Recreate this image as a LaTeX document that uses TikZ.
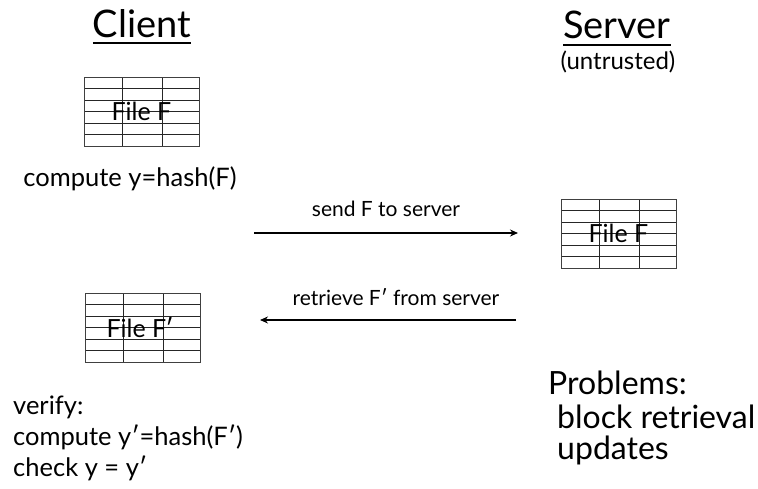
\documentclass[tikz,border=0pt]{standalone}
\usepackage{fontspec}
\setmainfont{Lato}
\usetikzlibrary{arrows.meta}
\begin{document}
\begin{tikzpicture}[x=1pt,y=-1pt,
  every node/.style={inner sep=0pt},
  title/.style={font=\fontsize{38}{42}\selectfont, anchor=base},
  uline/.style={line width=1.4pt},
  smalltxt/.style={font=\fontsize{24}{27}\selectfont, anchor=base},
  body/.style={font=\fontsize{25.5}{30}\selectfont},
  lbl/.style={font=\fontsize{21}{24}\selectfont, anchor=base},
  prob/.style={font=\fontsize{32}{36}\selectfont, anchor=base west},
  arr/.style={line width=1.4pt, -{Stealth[length=8pt,width=7pt]}},
  gridline/.style={line width=0.8pt, draw=black!85},
  filebox/.style={draw=black!75, line width=0.9pt, minimum width=115pt, minimum height=69pt,
    font=\fontsize{25}{28}\selectfont,
    path picture={
      \foreach \i in {1,...,5}
        \draw[gridline] ([yshift=-\i*11.5pt]path picture bounding box.north west) -- ([yshift=-\i*11.5pt]path picture bounding box.north east);
      \draw[gridline] ([xshift=38pt]path picture bounding box.north west) -- ([xshift=38pt]path picture bounding box.south west);
      \draw[gridline] ([xshift=78pt]path picture bounding box.north west) -- ([xshift=78pt]path picture bounding box.south west);
    }}
]
\useasboundingbox (0,0) rectangle (758,488);

% titles
\node[title] (client) at (142,37) {Client};
\draw[uline] ([yshift=-6pt]client.base west) -- ([yshift=-6pt]client.base east);
\node[title] (server) at (617,38) {Server};
\draw[uline] ([yshift=-7pt]server.base west) -- ([yshift=-7pt]server.base east);
\node[smalltxt] (untrusted) at (618,69) {(untrusted)};

% files
\node[filebox] (f1) at (141.5,111.5) {File F};
\node[body, anchor=base] (comp) at (130,186) {compute y=hash(F)};
\node[filebox] (f2) at (618.5,233.5) {File F};
\node[filebox] (f3) at (143,327.5) {File F\kern-1pt′\kern6pt};

% arrows
\coordinate (a1s) at (254,233);
\coordinate (a1e) at (518,233);
\coordinate (a2s) at (516,320);
\coordinate (a2e) at (260,320);
\draw[arr] (a1s) -- (a1e);
\draw[arr] (a2s) -- (a2e);
\node[lbl] (l1) at (386,216) {send F to server};
\node[lbl] (l2) at (396,305) {retrieve F′ from server};

% verify
\node[body, anchor=base west] (v1) at (13,414) {verify:};
\node[body, anchor=base west] (v2) at (13,445) {compute y′=hash(F′)};
\node[body, anchor=base west] (v3) at (13,476) {check y = y′};

% problems
\node[prob] (p1) at (548,394) {Problems:};
\node[prob] (p2) at (557,428) {block retrieval};
\node[prob] (p3) at (557,459) {updates};
\end{tikzpicture}
\end{document}
